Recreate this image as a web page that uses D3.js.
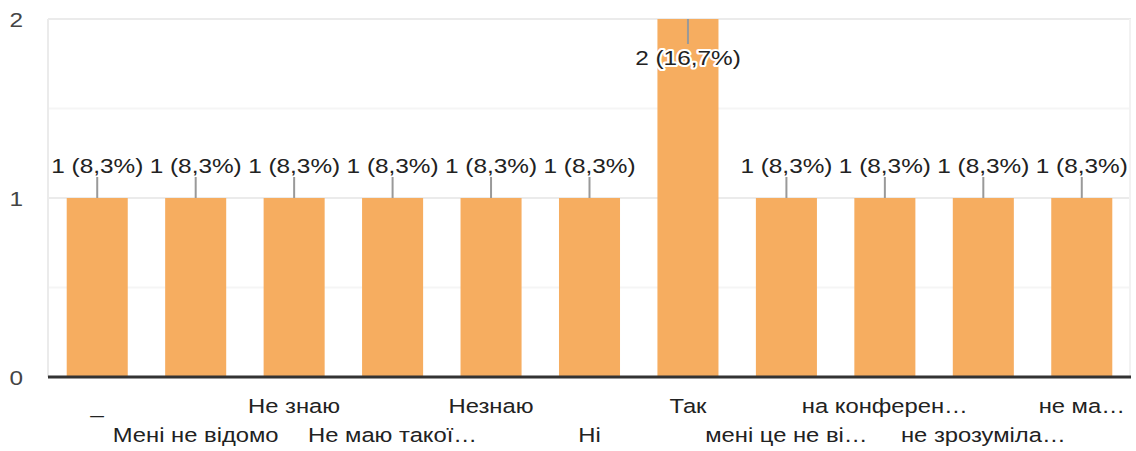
<!DOCTYPE html>
<html>
<head>
<meta charset="utf-8">
<script src="https://cdn.jsdelivr.net/npm/d3@7"></script>
<style>
  body { margin: 0; background: #fff; }
  text { font-family: Arial, "Liberation Sans", sans-serif; }
</style>
</head>
<body>
<script>
const width = 1136;
const height = 451;

// answers (truncated as in the source chart) and counts
const categories = ["_", "Мені не відомо", "Не знаю", "Не маю такої…", "Незнаю", "Ні", "Так",
  "мені це не ві…", "на конферен…", "не зрозуміла…", "не ма…"];
const counts = [1, 1, 1, 1, 1, 1, 2, 1, 1, 1, 1];
const yTicks = [0, 1, 2];
const yMinor = [0.5, 1.5];

const total = d3.sum(counts);
const pct = (v) => d3.format(".1f")(v / total * 100).replace(".", ",") + "%";

const margin = { top: 19, right: 5, bottom: 74, left: 48 };
const stretch = 1.16; // text in the picture is a bit wider than Arial

const svg = d3.select("body").append("svg").attr("width", width).attr("height", height);

const x = d3.scaleBand()
  .domain(categories)
  .range([margin.left, width - margin.right])
  .paddingInner(0.38)
  .paddingOuter(0.19);

const y = d3.scaleLinear()
  .domain([0, 2])
  .range([height - margin.bottom, margin.top]);

// grid
svg.append("g").selectAll("line").data(yMinor).join("line")
  .attr("x1", margin.left).attr("x2", width - margin.right)
  .attr("y1", (d) => y(d)).attr("y2", (d) => y(d))
  .attr("stroke", "#f5f5f5").attr("stroke-width", 2);
svg.append("g").selectAll("line").data(yTicks.filter((d) => d > 0)).join("line")
  .attr("x1", margin.left).attr("x2", width - margin.right)
  .attr("y1", (d) => y(d)).attr("y2", (d) => y(d))
  .attr("stroke", "#ebebeb").attr("stroke-width", 2);
svg.append("line")
  .attr("x1", margin.left).attr("x2", margin.left)
  .attr("y1", y(2)).attr("y2", y(0))
  .attr("stroke", "#ebebeb").attr("stroke-width", 2);
svg.append("line")
  .attr("x1", width - margin.right - 1).attr("x2", width - margin.right - 1)
  .attr("y1", y(2)).attr("y2", y(0))
  .attr("stroke", "#f2f2f2").attr("stroke-width", 2);

// y tick labels
svg.append("g").selectAll("text").data(yTicks).join("text")
  .attr("transform", (d) => `translate(23,${y(d) + 8}) scale(${stretch},1)`)
  .attr("text-anchor", "end")
  .attr("font-size", 21)
  .attr("fill", "#444")
  .text((d) => d);

// bars
svg.append("g").selectAll("rect").data(counts).join("rect")
  .attr("x", (d, i) => x(categories[i]))
  .attr("width", x.bandwidth())
  .attr("y", (d) => y(d))
  .attr("height", (d) => y(0) - y(d))
  .attr("fill", "#f6ad60");

// baseline
svg.append("line")
  .attr("x1", margin.left).attr("x2", width - margin.right)
  .attr("y1", y(0)).attr("y2", y(0))
  .attr("stroke", "#333").attr("stroke-width", 3);

// value labels with leader lines
const lab = svg.append("g").selectAll("g").data(counts).join("g")
  .attr("transform", (d, i) => `translate(${x(categories[i]) + x.bandwidth() / 2},0)`);

lab.append("line")
  .attr("x1", 0).attr("x2", 0)
  .attr("y1", (d) => d === 2 ? y(d) : y(d) - 21)
  .attr("y2", (d) => d === 2 ? y(d) + 25 : y(d))
  .attr("stroke", "#999").attr("stroke-width", 2);

lab.append("text")
  .attr("transform", (d) => `translate(0,${d === 2 ? y(d) + 46 : y(d) - 25}) scale(${stretch},1)`)
  .attr("text-anchor", "middle")
  .attr("font-size", 21)
  .attr("fill", "#222")
  .attr("stroke", (d) => d === 2 ? "#fff" : "none")
  .attr("stroke-width", 4)
  .attr("stroke-linejoin", "round")
  .attr("paint-order", "stroke")
  .text((d) => `${d} (${pct(d)})`);

// x labels in two staggered rows
svg.append("g").selectAll("text").data(categories).join("text")
  .attr("transform", (d, i) => `translate(${x(d) + x.bandwidth() / 2},${i % 2 === 0 ? 413 : 442}) scale(${stretch},1)`)
  .attr("text-anchor", "middle")
  .attr("font-size", 20.5)
  .attr("fill", "#222")
  .text((d) => d);
</script>
</body>
</html>
